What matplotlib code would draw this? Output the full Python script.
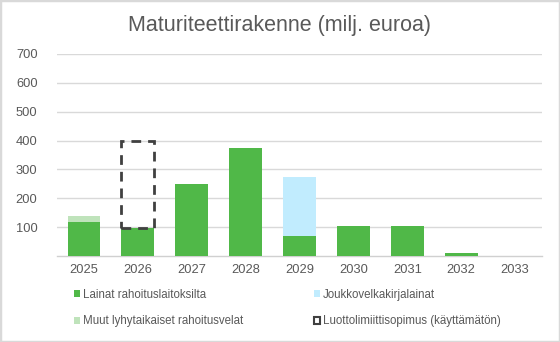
import matplotlib
matplotlib.use("Agg")
import matplotlib.pyplot as plt
import numpy as np
from matplotlib.patches import Patch, Rectangle

years = ["2025", "2026", "2027", "2028", "2029", "2030", "2031", "2032", "2033"]
lainat = [117, 98, 248, 375, 71, 104, 104, 10, 0]
joukko = [0, 0, 0, 0, 202, 0, 0, 0, 0]
muut = [20, 0, 0, 0, 0, 0, 0, 0, 0]
luotto = [0, 300, 0, 0, 0, 0, 0, 0, 0]
yticks = [100, 200, 300, 400, 500, 600, 700]

plt.rcParams['font.family'] = ['Liberation Sans', 'DejaVu Sans']
txt = '#595959'
c_lainat = '#50B848'
c_joukko = '#C1ECFE'
c_muut = '#BFE3BB'
c_luotto = '#404040'

fig = plt.figure(figsize=(5.6, 3.42), dpi=100)
fig.patches.append(Rectangle((0, 0), 1, 1, transform=fig.transFigure, fill=False,
                             edgecolor='#d9d9d9', linewidth=2.5))
ax = fig.add_axes([57/560, 1-256/342, (542-57)/560, (256-54)/342])

x = np.arange(len(years))
w = 0.61
ax.bar(x, lainat, w, color=c_lainat, zorder=3)
bottom2 = np.array(lainat)
ax.bar(x, joukko, w, bottom=bottom2, color=c_joukko, zorder=3)
bottom3 = bottom2 + np.array(joukko)
ax.bar(x, muut, w, bottom=bottom3, color=c_muut, zorder=3)
bottom4 = bottom3 + np.array(muut)
for i, v in enumerate(luotto):
    if v > 0:
        ax.bar(x[i], v, w, bottom=bottom4[i], facecolor='none', edgecolor=c_luotto,
               linewidth=2, linestyle=(0, (3.5, 2.5)), zorder=4)

ax.set_xlim(-0.5, len(years) - 0.5)
ax.set_ylim(0, 700)
ax.set_yticks(yticks)
ax.set_xticks(x)
ax.set_xticklabels(years)
ax.grid(axis='y', color='#d9d9d9', linewidth=1, zorder=0)
for s in ['top', 'right', 'left']:
    ax.spines[s].set_visible(False)
ax.spines['bottom'].set_color('#d0d0d0')
ax.spines['bottom'].set_linewidth(1)
ax.tick_params(axis='both', length=0, labelsize=9.3, colors=txt)
ax.tick_params(axis='y', pad=14)
ax.tick_params(axis='x', pad=6)

fig.text(0.5, 1-26/342, "Maturiteettirakenne (milj. euroa)", ha='center', va='center',
         fontsize=15.5, color=txt)

h1 = [
    Patch(facecolor=c_lainat, label='Lainat rahoituslaitoksilta'),
    Patch(facecolor=c_muut, label='Muut lyhytaikaiset rahoitusvelat'),
]
h2 = [
    Patch(facecolor=c_joukko, label='Joukkovelkakirjalainat'),
    Patch(facecolor='none', edgecolor=c_luotto, linewidth=1.5, label='Luottolimiittisopimus (käyttämätön)'),
]
kw = dict(loc='upper left', frameon=False, fontsize=8.3, handlelength=0.55, handleheight=0.55,
          handletextpad=0.2, labelspacing=1.25, borderaxespad=0, borderpad=0)
leg1 = fig.legend(handles=h1, bbox_to_anchor=(74/560, 1-289/342), **kw)
leg2 = fig.legend(handles=h2, bbox_to_anchor=(314/560, 1-289/342), **kw)
for leg in (leg1, leg2):
    for t in leg.get_texts():
        t.set_color(txt)

fig.savefig("out.png", dpi=100)
